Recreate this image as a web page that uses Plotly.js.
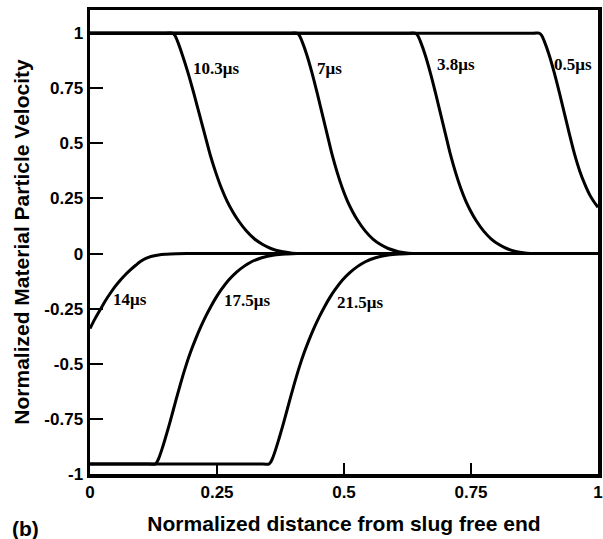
<!DOCTYPE html>
<html>
<head>
<meta charset="utf-8">
<script src="https://cdn.plot.ly/plotly-3.0.1.min.js"></script>
<style>html,body{margin:0;padding:0;background:#fff;}#chart{width:603px;height:539px;}</style>
</head>
<body>
<div id="chart"></div>
<script>
// ---- data ----
const x_0p5us  = [0, 0.872, 0.884, 0.889, 0.894, 0.904, 0.914, 0.924, 0.934, 0.944, 0.954, 0.964, 0.974, 0.984, 0.992, 1.0];
const y_0p5us  = [1, 1, 1, 0.99, 0.965, 0.9, 0.82, 0.73, 0.635, 0.54, 0.45, 0.375, 0.315, 0.265, 0.235, 0.21];

const x_3p8us  = [0, 0.628, 0.640, 0.645, 0.650, 0.660, 0.670, 0.680, 0.690, 0.700, 0.710, 0.720, 0.730, 0.740, 0.750, 0.760, 0.775, 0.790, 0.805, 0.820, 0.840, 0.860, 0.880, 0.895, 1];
const y_3p8us  = [1, 1, 1, 0.99, 0.965, 0.9, 0.82, 0.73, 0.635, 0.54, 0.445, 0.365, 0.295, 0.237, 0.19, 0.15, 0.102, 0.066, 0.041, 0.023, 0.009, 0.002, 0, 0, 0];

const x_7us    = [0, 0.395, 0.407, 0.412, 0.417, 0.427, 0.437, 0.447, 0.457, 0.467, 0.477, 0.487, 0.497, 0.507, 0.517, 0.527, 0.542, 0.557, 0.572, 0.587, 0.607, 0.627, 0.647, 0.662, 1];
const y_7us    = [1, 1, 1, 0.99, 0.965, 0.9, 0.82, 0.73, 0.635, 0.54, 0.445, 0.365, 0.295, 0.237, 0.19, 0.15, 0.102, 0.066, 0.041, 0.023, 0.009, 0.002, 0, 0, 0];

const x_10p3us = [0, 0.150, 0.162, 0.167, 0.172, 0.182, 0.193, 0.204, 0.215, 0.226, 0.237, 0.248, 0.259, 0.270, 0.281, 0.292, 0.308, 0.324, 0.340, 0.356, 0.377, 0.398, 0.420, 0.435, 1];
const y_10p3us = [1, 1, 1, 0.99, 0.965, 0.9, 0.82, 0.73, 0.635, 0.54, 0.445, 0.365, 0.295, 0.237, 0.19, 0.15, 0.102, 0.066, 0.041, 0.023, 0.009, 0.002, 0, 0, 0];

const x_14us   = [0, 0.01, 0.02, 0.03, 0.04, 0.05, 0.06, 0.07, 0.08, 0.09, 0.10, 0.11, 0.12, 0.135, 0.15, 0.17, 0.19, 0.205, 1];
const y_14us   = [-0.34, -0.295, -0.255, -0.215, -0.18, -0.148, -0.12, -0.095, -0.073, -0.053, -0.035, -0.022, -0.013, -0.006, -0.003, -0.001, 0, 0, 0];

const x_17p5us = [0, 0.116, 0.128, 0.132, 0.136, 0.142, 0.148, 0.158, 0.168, 0.178, 0.188, 0.198, 0.208, 0.218, 0.228, 0.238, 0.248, 0.258, 0.273, 0.288, 0.303, 0.318, 0.338, 0.363, 0.388, 0.408, 0.423, 1];
const y_17p5us = [-0.955, -0.955, -0.955, -0.945, -0.925, -0.885, -0.84, -0.76, -0.675, -0.592, -0.515, -0.447, -0.387, -0.333, -0.284, -0.24, -0.2, -0.165, -0.12, -0.085, -0.058, -0.037, -0.019, -0.007, -0.002, 0, 0, 0];

const x_21p5us = [0, 0.340, 0.352, 0.356, 0.360, 0.366, 0.372, 0.382, 0.392, 0.402, 0.412, 0.422, 0.432, 0.442, 0.452, 0.462, 0.472, 0.482, 0.497, 0.512, 0.527, 0.542, 0.562, 0.587, 0.612, 0.632, 0.647, 1];
const y_21p5us = [-0.955, -0.955, -0.955, -0.945, -0.925, -0.885, -0.84, -0.76, -0.675, -0.592, -0.515, -0.447, -0.387, -0.333, -0.284, -0.24, -0.2, -0.165, -0.12, -0.085, -0.058, -0.037, -0.019, -0.007, -0.002, 0, 0, 0];

const curveLabels = ["0.5μs", "3.8μs", "7μs", "10.3μs", "14μs", "17.5μs", "21.5μs"];
const labelX = [0.951, 0.72, 0.472, 0.249, 0.078, 0.31, 0.532];
const labelY = [0.86, 0.86, 0.84, 0.84, -0.21, -0.213, -0.22];

const xTickVals = [0, 0.25, 0.5, 0.75, 1];
const xTickText = ["0", "0.25", "0.5", "0.75", "1"];
const yTickVals = [1, 0.75, 0.5, 0.25, 0, -0.25, -0.5, -0.75, -1];
const yTickText = ["1", "0.75", "0.5", "0.25", "0", "-0.25", "-0.5", "-0.75", "-1"];

const xTitle = "Normalized distance from slug free end";
const yTitle = "Normalized Material Particle Velocity";
const panelTag = "(b)";

// ---- drawing ----
const seriesX = [x_0p5us, x_3p8us, x_7us, x_10p3us, x_14us, x_17p5us, x_21p5us];
const seriesY = [y_0p5us, y_3p8us, y_7us, y_10p3us, y_14us, y_17p5us, y_21p5us];

const traces = seriesX.map((xs, i) => ({
  x: xs, y: seriesY[i], type: 'scatter', mode: 'lines',
  name: curveLabels[i],
  line: {color: '#000', width: 3, shape: 'spline', smoothing: 1},
  hoverinfo: 'skip'
}));

const annotations = curveLabels.map((t, i) => ({
  x: labelX[i], y: labelY[i], xref: 'x', yref: 'y', text: t, showarrow: false,
  font: {family: 'Liberation Serif, Times New Roman, serif', size: 17, color: '#000', weight: 'bold'},
  xanchor: 'center', yanchor: 'middle'
}));
annotations.push({
  x: -0.157, y: -0.117, xref: 'paper', yref: 'paper', text: panelTag, showarrow: false,
  font: {family: 'Liberation Sans, Arial, sans-serif', size: 21, color: '#000', weight: 'bold'},
  xanchor: 'left', yanchor: 'middle'
});

const axisFont = {family: 'Liberation Sans, Arial, sans-serif', size: 17, color: '#000', weight: 'bold'};
const titleFont = {family: 'Liberation Sans, Arial, sans-serif', size: 21, color: '#000', weight: 'bold'};

const layout = {
  width: 603, height: 539,
  margin: {l: 90, r: 5, t: 10, b: 65},
  paper_bgcolor: '#fff', plot_bgcolor: '#fff',
  showlegend: false,
  xaxis: {
    range: [0, 1], tickvals: xTickVals, ticktext: xTickText,
    ticks: 'inside', ticklen: 11, tickwidth: 2, tickcolor: '#000',
    showline: true, linewidth: 3.5, linecolor: '#000', mirror: true,
    showgrid: false, zeroline: false, tickfont: axisFont,
    title: {text: xTitle, font: titleFont, standoff: 16},
    automargin: false
  },
  yaxis: {
    range: [-1, 1.105], tickvals: yTickVals, ticktext: yTickText,
    ticks: 'inside', ticklen: 13, tickwidth: 2, tickcolor: '#000',
    showline: true, linewidth: 3.5, linecolor: '#000', mirror: true,
    showgrid: false, zeroline: false, tickfont: axisFont,
    title: {text: yTitle, font: titleFont, standoff: 10},
    automargin: false
  },
  annotations: annotations
};

Plotly.newPlot('chart', traces, layout, {displayModeBar: false, staticPlot: true});
</script>
</body>
</html>
